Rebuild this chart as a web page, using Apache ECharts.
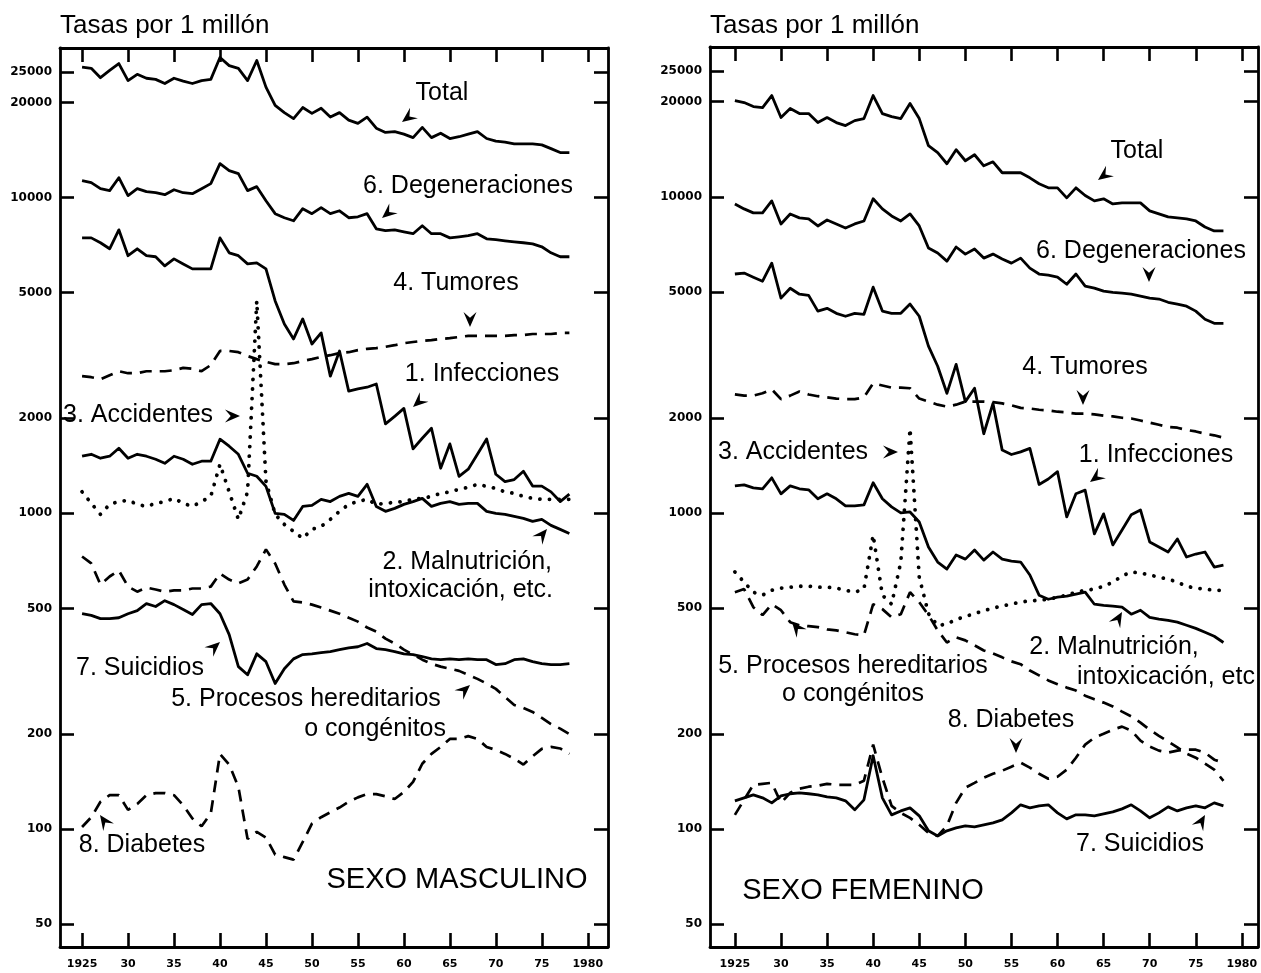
<!DOCTYPE html>
<html><head><meta charset="utf-8">
<script src="https://cdn.jsdelivr.net/npm/echarts@6/dist/echarts.min.js"></script>
<style>html,body{margin:0;padding:0;background:#fff}#c{width:1261px;height:973px}</style>
</head><body><div id="c"></div>
<script>
// ---------------- DATA ----------------
const years = [1925,1926,1927,1928,1929,1930,1931,1932,1933,1934,1935,1936,1937,1938,1939,1940,1941,1942,1943,1944,1945,1946,1947,1948,1949,1950,1951,1952,1953,1954,1955,1956,1957,1958,1959,1960,1961,1962,1963,1964,1965,1966,1967,1968,1969,1970,1971,1972,1973,1974,1975,1976,1977,1978];

const X_TICKS = [1925,1930,1935,1940,1945,1950,1955,1960,1965,1970,1975,1980];
const X_TICK_LABELS = ['1925','30','35','40','45','50','55','60','65','70','75','1980'];
const Y_TICKS = [50,100,200,500,1000,2000,5000,10000,20000,25000];
const Y_TICK_LABELS = ['50','100','200','500','1000','2000','5000','10000','20000','25000'];

// Sexo masculino (tasas por 1 millón)
const m_total = [25900,25700,24000,25300,26600,23500,24600,23900,23700,23000,23900,23400,23000,23500,23700,27800,26200,25700,23500,27200,22400,19600,18600,17800,19300,18500,19200,18000,18600,17600,17200,18000,16600,16100,16200,15900,15500,16700,15500,16000,15400,15600,15900,16200,15400,15100,15000,14800,14800,14800,14700,14300,13900,13900];
const m_degeneraciones = [11320,11160,10680,10530,11570,10150,10680,10450,10370,10220,10600,10370,10300,10680,11080,12820,12180,11920,10530,10840,9780,8900,8640,8450,9230,8900,9300,8900,9090,8640,8700,8900,7970,7860,7910,7800,7690,8150,7690,7690,7460,7520,7580,7690,7410,7360,7300,7250,7200,7140,6990,6690,6500,6500];
const m_infecciones = [7460,7460,7200,6890,7910,6550,6890,6550,6500,6080,6400,6170,5950,5950,5950,7460,6690,6550,6170,6220,5950,4710,3980,3570,4130,3440,3730,2720,3270,2440,2480,2510,2570,1920,2030,2150,1600,1730,1860,1390,1660,1310,1380,1540,1720,1330,1260,1280,1360,1220,1220,1170,1090,1150];
const m_tumores = [2720,2700,2660,2740,2820,2780,2780,2820,2820,2820,2840,2890,2870,2820,2950,3270,3270,3240,3150,3080,3020,2970,2970,2990,3040,3080,3130,3170,3220,3240,3290,3320,3340,3370,3410,3460,3490,3520,3540,3570,3590,3620,3650,3650,3650,3650,3650,3670,3670,3700,3700,3700,3730,3730];
const m_accidentes = [1170,1076,993,1068,1090,1100,1068,1052,1076,1090,1116,1076,1052,1090,1132,1431,1170,957,1170,4710,1264,993,923,877,833,890,909,957,1015,1068,1090,1108,1068,1076,1084,1090,1108,1116,1132,1157,1170,1192,1209,1236,1218,1200,1170,1157,1132,1116,1108,1108,1108,1108];
const m_malnutricion = [1517,1539,1495,1517,1608,1495,1539,1517,1484,1441,1517,1484,1431,1463,1463,1718,1632,1539,1340,1311,1218,1000,993,950,1052,1060,1108,1090,1132,1157,1132,1236,1052,1015,1037,1068,1090,1116,1052,1076,1090,1068,1076,1076,1015,1000,993,978,964,943,957,916,890,864];
const m_procesos = [730,694,595,631,659,586,565,582,574,565,570,570,578,578,586,645,617,600,617,679,769,694,595,526,522,514,503,492,481,467,454,435,422,401,387,370,357,344,334,327,322,317,308,299,289,278,262,247,242,235,225,215,208,200];
const m_suicidios = [481,475,464,464,467,481,492,518,507,529,514,496,478,514,518,481,413,327,308,359,339,289,322,346,357,359,362,365,370,375,378,387,373,370,365,359,357,352,346,344,346,344,346,344,344,332,334,344,346,339,334,332,332,334];
const m_diabetes = [101.5,109,122,128,128,115,120,128,130,130,128,119,108,102,112,173,160,136,93,98,94,83,81.5,80,91,104,109,113,117,122,126,129,129,127,124.5,131,141,161,173,182,193,193,197,193,182,178,173,167,160,170,179.5,182,180,173];

// Sexo femenino (tasas por 1 millón)
const f_total = [20170,19880,19310,19170,20920,17820,19030,18350,18350,17180,17820,17180,16810,17430,17690,20920,18350,17950,17690,19740,17690,14520,13800,12730,14100,13010,13590,12540,12910,11920,11920,11920,11490,11000,10680,10680,9930,10680,10100,9710,9860,9500,9570,9570,9570,9030,8830,8640,8580,8520,8390,8030,7800,7800];
const f_degeneraciones = [9500,9160,8900,8900,9710,8210,8830,8580,8520,8090,8450,8210,7970,8210,8390,9860,9160,8700,8390,8830,8090,6890,6640,6260,6940,6590,6840,6400,6590,6360,6170,6400,5950,5700,5650,5570,5290,5700,5220,5140,5030,4990,4960,4920,4850,4780,4750,4640,4580,4510,4350,4100,3980,3980];
const f_infecciones = [5700,5740,5570,5410,6170,4780,5140,4920,4880,4350,4440,4280,4190,4280,4250,5180,4350,4280,4280,4580,4190,3370,2910,2390,2950,2250,2480,1780,2220,1580,1530,1560,1600,1230,1280,1350,971,1150,1180,858,993,792,883,986,1022,809,780,752,827,725,741,752,674,684];
const f_tumores = [2370,2350,2350,2390,2460,2290,2350,2420,2370,2340,2320,2300,2290,2290,2320,2570,2530,2490,2490,2480,2300,2250,2200,2170,2200,2250,2250,2250,2240,2220,2190,2150,2140,2120,2110,2090,2080,2060,2060,2050,2030,2020,2000,1990,1960,1930,1900,1870,1860,1830,1810,1780,1760,1730];
const f_accidentes = [650,604,561,549,569,578,582,586,586,582,582,578,569,561,574,851,549,514,699,1848,626,480,440,445,460,470,480,490,500,507,515,522,527,529,533,541,549,561,569,574,586,604,631,650,645,636,626,617,604,586,578,574,569,569];
const f_malnutricion = [1218,1227,1200,1192,1291,1149,1218,1192,1183,1108,1149,1108,1052,1052,1060,1245,1108,1045,1000,1007,936,780,699,664,736,714,763,709,752,714,704,699,636,549,533,541,545,553,561,514,510,507,503,478,492,467,461,457,451,441,431,419,407,389];
const f_procesos = [561,574,503,475,514,492,451,441,438,435,428,425,419,413,410,514,496,467,478,561,522,475,425,389,404,395,381,367,359,349,339,332,317,306,295,287,280,274,264,257,251,244,235,227,217,206,197,189,181,173,168,161,154,142];
const f_suicidios = [122.7,125.4,128.2,125.4,120.9,127.3,129.2,130.1,129.2,128.2,126.3,125.4,122.7,114.9,123.6,170.4,125.4,110.8,114.0,116.6,110.0,98.6,95.0,98.6,100.7,102.2,101.5,103.0,104.5,106.8,112.4,119.2,116.6,118.3,119.2,112.4,107.6,110.8,110.8,110.0,111.6,113.2,115.7,119.2,114.0,108.4,112.4,117.4,114.0,116.6,118.3,116.6,120.9,118.3];
const f_diabetes = [110.8,123.6,137.9,138.9,139.9,120.9,130.1,134.0,136.0,136.9,138.9,137.9,137.9,137.9,142.1,184.8,145.2,118.3,112.4,108.4,103.0,97.1,95.0,102.2,120.9,135.0,139.9,145.2,149.5,152.8,157.4,162.0,156.3,149.5,144.1,146.2,154.0,168.0,184.8,194.5,200.1,206.1,210.7,204.7,190.3,182.1,176.9,174.3,176.9,178.1,178.1,174.3,165.6,162.0];

// ---------------- CHART ----------------
const chart = echarts.init(document.getElementById('c'), null, {renderer: 'canvas'});
const BLACK = '#000';
const LBL_FONT = "'DejaVu Sans', sans-serif";
const TXT_FONT = "'Liberation Sans', Arial, sans-serif";

const STYLES = {
  solid:  {color: BLACK, width: 2.8, type: 'solid', join: 'round'},
  dashed: {color: BLACK, width: 2.7, type: [12, 8]},
  dotted: {color: BLACK, width: 3.8, type: [0.1, 9.5], cap: 'round'}
};

const panels = [
  {grid: {left: 60, top: 48, width: 548, height: 899}, xmin: 1922.6, xmax: 1982.2, ymin: 42.3, ymax: 29800,
   lines: [[m_total,'solid'],[m_degeneraciones,'solid'],[m_infecciones,'solid'],[m_tumores,'dashed'],[m_accidentes,'dotted'],[m_malnutricion,'solid'],[m_procesos,'dashed'],[m_suicidios,'solid'],[m_diabetes,'dashed']]},
  {grid: {left: 710, top: 47, width: 548, height: 900}, xmin: 1922.3, xmax: 1981.75, ymin: 42.3, ymax: 29800,
   lines: [[f_total,'solid'],[f_degeneraciones,'solid'],[f_infecciones,'solid'],[f_tumores,'dashed'],[f_accidentes,'dotted'],[f_malnutricion,'solid'],[f_procesos,'dashed'],[f_suicidios,'solid'],[f_diabetes,'dashed']]}
];

const xFmt = v => { const i = X_TICKS.indexOf(Math.round(v)); return i >= 0 ? X_TICK_LABELS[i] : ''; };
const yFmt = v => { const i = Y_TICKS.findIndex(t => Math.abs(t - v) / t < 0.01); return i >= 0 ? Y_TICK_LABELS[i] : ''; };

const grids = [], xAxes = [], yAxes = [], series = [];
const axLine = {show: true, onZero: false, lineStyle: {color: BLACK, width: 2.8}};
const tick = (vals) => ({show: true, inside: true, length: 14, customValues: vals, lineStyle: {color: BLACK, width: 2.6}});

panels.forEach((p, gi) => {
  grids.push(p.grid);
  xAxes.push({type: 'value', gridIndex: gi, position: 'bottom', min: p.xmin, max: p.xmax,
    axisLine: axLine, axisTick: tick(X_TICKS), splitLine: {show: false},
    axisLabel: {show: true, customValues: X_TICKS, formatter: xFmt, margin: 12,
      fontFamily: LBL_FONT, fontWeight: 'bold', fontSize: 11, color: BLACK}});
  xAxes.push({type: 'value', gridIndex: gi, position: 'top', min: p.xmin, max: p.xmax,
    axisLine: axLine, axisTick: tick(X_TICKS), splitLine: {show: false}, axisLabel: {show: false}});
  yAxes.push({type: 'log', logBase: 10, gridIndex: gi, position: 'left', min: p.ymin, max: p.ymax,
    axisLine: axLine, axisTick: tick(Y_TICKS), splitLine: {show: false}, minorTick: {show: false},
    axisLabel: {show: true, customValues: Y_TICKS, formatter: yFmt, margin: 8,
      fontFamily: LBL_FONT, fontWeight: 'bold', fontSize: 12, color: BLACK}});
  yAxes.push({type: 'log', logBase: 10, gridIndex: gi, position: 'right', min: p.ymin, max: p.ymax,
    axisLine: axLine, axisTick: tick(Y_TICKS), splitLine: {show: false}, axisLabel: {show: false}});
  p.lines.forEach(([arr, st]) => {
    series.push({type: 'line', xAxisIndex: gi * 2, yAxisIndex: gi * 2, symbol: 'none', silent: true,
      animation: false, smooth: false, lineStyle: STYLES[st],
      data: years.map((yr, i) => [yr, arr[i]])});
  });
});

// ---------------- ANNOTATIONS ----------------
function txt(s, x, y, size, align) {
  return {type: 'text', x: x, y: y, z: 100, silent: true,
    style: {text: s, fill: BLACK, font: (size || 25) + 'px ' + TXT_FONT,
      align: align || 'center', verticalAlign: 'middle', textAlign: align || 'center', textVerticalAlign: 'middle'}};
}
function arrow(tx, ty, deg) {
  const a = deg * Math.PI / 180, L = 15, H = 6.5;
  const dx = Math.cos(a), dy = Math.sin(a), px = -dy, py = dx;
  const bx = tx - dx * L, by = ty - dy * L;
  const nx = tx - dx * L * 0.62, ny = ty - dy * L * 0.62;
  return {type: 'polygon', z: 100, silent: true,
    shape: {points: [[tx, ty], [bx + px * H, by + py * H], [nx, ny], [bx - px * H, by - py * H]]},
    style: {fill: BLACK}};
}

const graphic = [
  txt('Tasas por 1 millón', 60, 26, 26, 'left'),
  txt('Tasas por 1 millón', 710, 26, 26, 'left'),
  // left panel
  txt('Total', 442, 93), arrow(402, 122, 143),
  txt('6. Degeneraciones', 468, 186), arrow(382, 218, 140),
  txt('4. Tumores', 456, 283), arrow(470, 327, 90),
  txt('1. Infecciones', 482, 374), arrow(413, 407, 138),
  txt('3. Accidentes', 63, 415, 25, 'left'), arrow(240, 416, 0),
  txt('2. Malnutrición,', 552, 562, 25, 'right'),
  txt('intoxicación, etc.', 553, 590, 25, 'right'), arrow(547, 529, -50),
  txt('7. Suicidios', 140, 668), arrow(220, 642, -42),
  txt('5. Procesos hereditarios', 306, 699),
  txt('o congénitos', 446, 729, 25, 'right'), arrow(470, 685, -42),
  txt('8. Diabetes', 142, 845), arrow(100, 815, -125),
  txt('SEXO MASCULINO', 457, 880, 29),
  // right panel
  txt('Total', 1137, 151), arrow(1098, 180, 143),
  txt('6. Degeneraciones', 1141, 251), arrow(1149, 282, 90),
  txt('4. Tumores', 1085, 367), arrow(1083, 405, 90),
  txt('1. Infecciones', 1156, 455), arrow(1090, 482, 143),
  txt('3. Accidentes', 718, 452, 25, 'left'), arrow(898, 452, 0),
  txt('2. Malnutrición,', 1114, 647),
  txt('intoxicación, etc', 1166, 677), arrow(1122, 612, -60),
  txt('5. Procesos hereditarios', 853, 666),
  txt('o congénitos', 853, 694), arrow(792, 622, -130),
  txt('8. Diabetes', 1011, 720), arrow(1016, 753, 90),
  txt('7. Suicidios', 1140, 844), arrow(1205, 815, -60),
  txt('SEXO FEMENINO', 863, 891, 29)
];

chart.setOption({
  animation: false,
  backgroundColor: '#fff',
  grid: grids,
  xAxis: xAxes,
  yAxis: yAxes,
  series: series,
  graphic: graphic
});
</script>
</body></html>
